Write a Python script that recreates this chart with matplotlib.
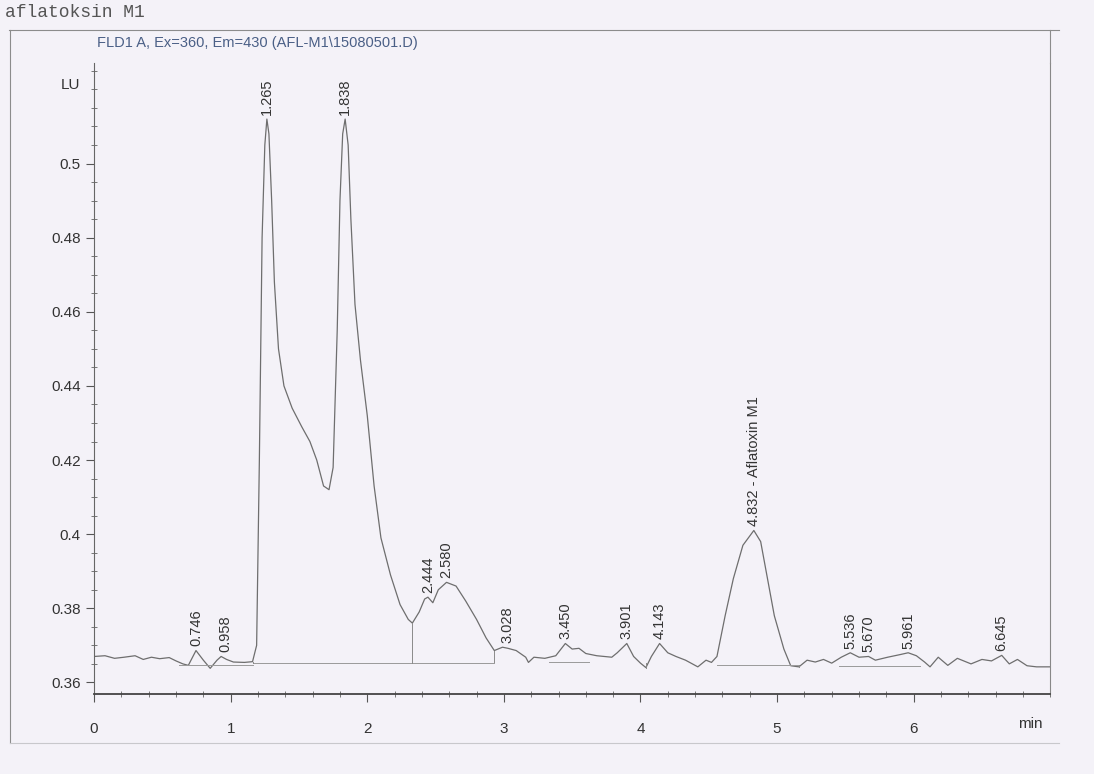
import numpy as np
import matplotlib.pyplot as plt
from matplotlib.ticker import MultipleLocator
from matplotlib.lines import Line2D

## chromatogram trace (time in min, signal in LU)
time_pts = [0.00, 0.08, 0.15, 0.22, 0.30, 0.36, 0.42, 0.48, 0.55, 0.60, 0.65, 0.69,
            0.746, 0.80, 0.85, 0.90, 0.93, 0.97, 1.02, 1.10, 1.16, 1.19, 1.21, 1.23,
            1.25, 1.265, 1.28, 1.30, 1.32, 1.35, 1.39, 1.45, 1.52, 1.58, 1.63, 1.68,
            1.72, 1.75, 1.78, 1.80, 1.82, 1.838, 1.86, 1.88, 1.91, 1.95, 2.00, 2.05,
            2.10, 2.17, 2.24, 2.30, 2.33, 2.38, 2.42, 2.444, 2.48, 2.52, 2.58, 2.65,
            2.72, 2.80, 2.87, 2.93, 2.99, 3.03, 3.09, 3.16, 3.18, 3.22, 3.30, 3.38,
            3.45, 3.50, 3.55, 3.60, 3.68, 3.79, 3.83, 3.90, 3.95, 4.00, 4.04, 4.08,
            4.14, 4.20, 4.26, 4.33, 4.42, 4.48, 4.52, 4.56, 4.62, 4.68, 4.75, 4.83,
            4.88, 4.93, 4.98, 5.05, 5.10, 5.16, 5.22, 5.28, 5.34, 5.40, 5.47, 5.536,
            5.60, 5.67, 5.72, 5.81, 5.90, 5.96, 6.02, 6.08, 6.12, 6.18, 6.25, 6.32,
            6.42, 6.50, 6.57, 6.645, 6.70, 6.76, 6.83, 6.90, 7.00]
signal_pts = [0.3670, 0.3672, 0.3665, 0.3668, 0.3672, 0.3662, 0.3668, 0.3664, 0.3667, 0.3658, 0.3650, 0.3646,
              0.3686, 0.3660, 0.3638, 0.3660, 0.3670, 0.3662, 0.3655, 0.3654, 0.3656, 0.3700, 0.4200, 0.4800,
              0.5050, 0.5120, 0.5080, 0.4900, 0.4680, 0.4500, 0.4400, 0.4340, 0.4290, 0.4250, 0.4200, 0.4130,
              0.4120, 0.4180, 0.4550, 0.4900, 0.5080, 0.5120, 0.5050, 0.4850, 0.4620, 0.4470, 0.4320, 0.4130,
              0.3990, 0.3890, 0.3810, 0.3770, 0.3760, 0.3790, 0.3825, 0.3830, 0.3815, 0.3850, 0.3870, 0.3860,
              0.3820, 0.3770, 0.3720, 0.3686, 0.3695, 0.3692, 0.3686, 0.3668, 0.3654, 0.3668, 0.3665, 0.3672,
              0.3705, 0.3690, 0.3692, 0.3678, 0.3672, 0.3668, 0.3680, 0.3705, 0.3670, 0.3652, 0.3640, 0.3670,
              0.3705, 0.3680, 0.3670, 0.3660, 0.3642, 0.3660, 0.3654, 0.3670, 0.3780, 0.3880, 0.3970, 0.4010,
              0.3980, 0.3880, 0.3780, 0.3690, 0.3645, 0.3642, 0.3660, 0.3655, 0.3662, 0.3652, 0.3668, 0.3680,
              0.3668, 0.3670, 0.3660, 0.3668, 0.3675, 0.3680, 0.3672, 0.3655, 0.3642, 0.3668, 0.3646, 0.3665,
              0.3650, 0.3662, 0.3658, 0.3673, 0.3650, 0.3662, 0.3645, 0.3642, 0.3642]

## labelled peaks
peak_times = [0.746, 0.958, 1.265, 1.838, 2.444, 2.580, 3.028, 3.450, 3.901, 4.143,
              4.832, 5.536, 5.670, 5.961, 6.645]
peak_heights = [0.3686, 0.3670, 0.5120, 0.5120, 0.3830, 0.3870, 0.3695, 0.3705, 0.3705, 0.3705,
                0.4010, 0.3680, 0.3670, 0.3680, 0.3673]
peak_labels = ["0.746", "0.958", "1.265", "1.838", "2.444", "2.580", "3.028", "3.450", "3.901",
               "4.143", "4.832 - Aflatoxin M1", "5.536", "5.670", "5.961", "6.645"]

## integration baselines and drop lines
base_start = [0.62, 1.16, 2.33, 3.33, 4.56, 5.45]
base_end = [1.16, 2.33, 2.93, 3.62, 5.16, 6.05]
base_level = [0.3648, 0.3652, 0.3652, 0.3655, 0.3646, 0.3645]
drop_times = [1.16, 2.33, 2.93, 4.04, 5.16]

y_ticks = [0.36, 0.38, 0.40, 0.42, 0.44, 0.46, 0.48, 0.50]
y_ticklabels = ["0.36", "0.38", "0.4", "0.42", "0.44", "0.46", "0.48", "0.5"]
x_ticks = [0, 1, 2, 3, 4, 5, 6]

bg = '#f4f2f8'
txt = '#333333'
plt.rcParams['font.family'] = ['Liberation Sans', 'DejaVu Sans']

fig = plt.figure(figsize=(10.94, 7.74), dpi=100, facecolor=bg)
ax = fig.add_axes([0.086, 0.103, 0.874, 0.815])
ax.set_facecolor(bg)

ax.plot(time_pts, signal_pts, color='#6e6e6e', lw=0.9)

for s, e, lv in zip(base_start, base_end, base_level):
    ax.plot([s, e], [lv, lv], color='#9a9a9a', lw=0.7)
for t in drop_times:
    yv = np.interp(t, time_pts, signal_pts)
    lv = np.interp(t, base_start + base_end, base_level + base_level)
    ax.plot([t, t], [lv, yv], color='#8a8a8a', lw=0.7)

for t, h, lab in zip(peak_times, peak_heights, peak_labels):
    ax.annotate(lab, (t, h), xytext=(0, 3), textcoords='offset points',
                rotation=90, ha='center', va='bottom', fontsize=10.5,
                color=txt, annotation_clip=False)

ax.set_xlim(0, 7)
ax.set_ylim(0.3568, 0.527)
ax.set_yticks(y_ticks)
ax.set_yticklabels(y_ticklabels)
ax.set_xticks(x_ticks)
ax.yaxis.set_minor_locator(MultipleLocator(0.005))
ax.xaxis.set_minor_locator(MultipleLocator(0.2))
ax.tick_params(axis='both', which='major', labelsize=11, colors='#555555',
               labelcolor=txt, length=6, width=0.8)
ax.tick_params(axis='both', which='minor', colors='#777777', length=4, width=0.7,
               direction='inout')
ax.tick_params(axis='x', pad=14)

for side in ['top']:
    ax.spines[side].set_visible(False)
ax.spines['left'].set_color('#666666')
ax.spines['bottom'].set_color('#444444')
ax.spines['bottom'].set_linewidth(1.3)
ax.spines['right'].set_color('#888888')
ax.spines['right'].set_linewidth(0.8)

# outer page frame of the printout
frame_kw = dict(color='#8c8c8c', lw=0.8, transform=fig.transFigure)
fig.add_artist(Line2D([0.008, 0.968], [0.961, 0.961], **frame_kw))
fig.add_artist(Line2D([0.009, 0.009], [0.961, 0.04], **frame_kw))
fig.add_artist(Line2D([0.96, 0.96], [0.961, 0.918], **frame_kw))
fig.add_artist(Line2D([0.009, 0.968], [0.04, 0.04], color='#c8c8cc', lw=0.8,
                      transform=fig.transFigure))

fig.text(0.005, 0.984, "aflatoksin M1", family=['Liberation Mono', 'DejaVu Sans Mono'],
         fontsize=13, color='#555555', va='center', ha='left')
fig.text(0.089, 0.945, "FLD1 A, Ex=360, Em=430 (AFL-M1\\15080501.D)", fontsize=10.5,
         color='#4a5f86', va='center', ha='left')
fig.text(0.064, 0.89, "LU", fontsize=11, color=txt, va='center', ha='center')
fig.text(0.942, 0.064, "min", fontsize=11, color=txt, va='center', ha='center')

fig.savefig('out.png', dpi=100, facecolor=bg)
